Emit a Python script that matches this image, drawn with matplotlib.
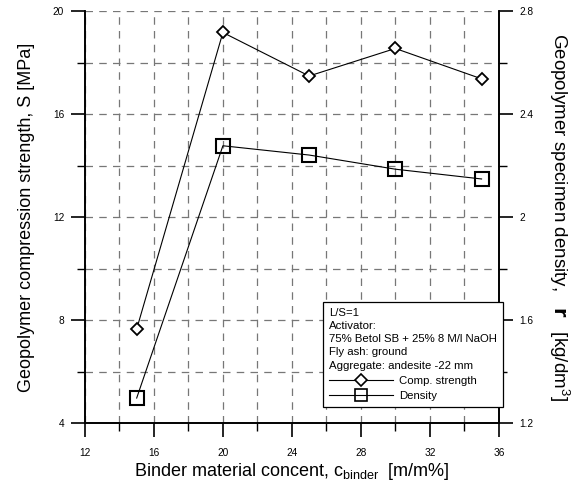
import matplotlib
matplotlib.use("Agg")
from matplotlib import pyplot as plt
from matplotlib.lines import Line2D
from matplotlib.ticker import MultipleLocator, FuncFormatter

plt.rcParams['font.family'] = ['Liberation Sans', 'DejaVu Sans']
plt.rcParams['mathtext.default'] = 'regular'

binder = [15, 20, 25, 30, 35]
strength = [7.65, 19.17, 17.48, 18.55, 17.37]
density = [1.297, 2.277, 2.241, 2.186, 2.148]

legend_text = ("L/S=1\nActivator:\n75% Betol SB + 25% 8 M/l NaOH\n"
               "Fly ash: ground\nAggregate: andesite -22 mm")

fig = plt.figure(figsize=(5.74, 4.84), dpi=100)
ax = fig.add_axes([0.148, 0.126, 0.721, 0.851])
ax2 = ax.twinx()

ax.plot(binder, strength, color='k', lw=0.8, marker='D', ms=6,
        mfc='white', mec='k', mew=1.3, zorder=5)
ax2.plot(binder, density, color='k', lw=0.8, marker='s', ms=10,
         mfc='none', mec='k', mew=1.5, zorder=5)

ax.set_xlim(12, 36)
ax.set_ylim(4, 20)
ax2.set_ylim(1.2, 2.8)
ax.xaxis.set_major_locator(MultipleLocator(4))
ax.xaxis.set_minor_locator(MultipleLocator(2))
ax.yaxis.set_major_locator(MultipleLocator(4))
ax.yaxis.set_minor_locator(MultipleLocator(2))
ax2.yaxis.set_major_locator(MultipleLocator(0.4))
ax2.yaxis.set_minor_locator(MultipleLocator(0.2))
ax2.yaxis.set_major_formatter(FuncFormatter(lambda v, p: ('%.1f' % v).rstrip('0').rstrip('.')))

ax.grid(True, which='both', color='#777777', ls=(0, (6, 5)), lw=0.9)
ax.set_axisbelow(True)

for a in (ax, ax2):
    a.spines['top'].set_visible(False)
    a.tick_params(which='major', direction='out', length=10, width=1.2,
                  labelsize=7.3, pad=5)
    a.tick_params(which='minor', direction='out', length=6, width=1.0)
    for s in a.spines.values():
        s.set_linewidth(1.2)
ax.tick_params(axis='x', which='major', pad=8)

ax.set_xlabel(r"Binder material concent, c$_{binder}$  [m/m%]", fontsize=13, labelpad=2)
ax.set_ylabel("Geopolymer compression strength, S [MPa]", fontsize=13, labelpad=13)
ax2.set_ylabel(r"Geopolymer specimen density,   $\mathbf{r}$   [kg/dm$^3$]",
               fontsize=13.5, rotation=-90, labelpad=27)

handles = [Line2D([], [], color='k', lw=0.8, marker='D', ms=6, mfc='white', mew=1.2),
           Line2D([], [], color='k', lw=0.8, marker='s', ms=8, mfc='none', mew=1.2)]
leg = ax2.legend(handles, ['Comp. strength', 'Density'], title=legend_text,
                 loc='lower right', bbox_to_anchor=(1.025, 0.025),
                 fontsize=8.2, title_fontsize=8.2, alignment='left',
                 handlelength=5.6, fancybox=False, framealpha=1,
                 edgecolor='k', borderpad=0.55, labelspacing=0.45,
                 handletextpad=0.5)
leg.get_title().set_linespacing(1.38)
leg.get_frame().set_linewidth(0.9)
leg.set_zorder(10)

fig.savefig("out.png", dpi=100)
